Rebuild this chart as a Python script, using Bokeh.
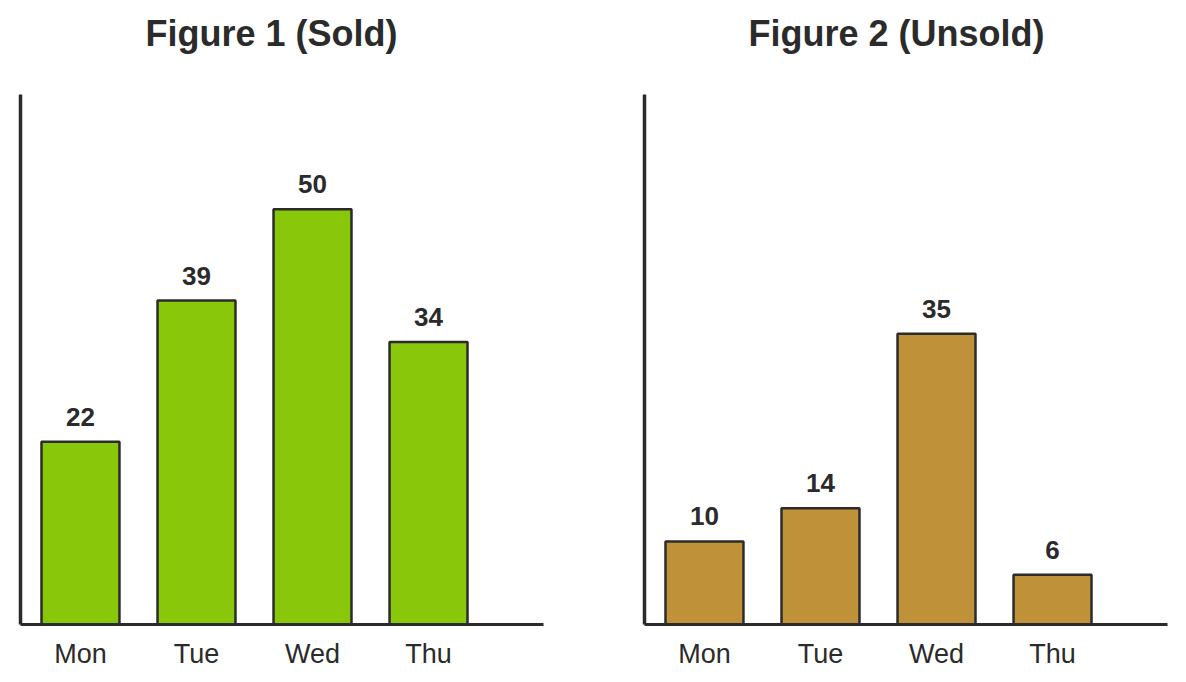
from bokeh.plotting import figure
from bokeh.layouts import row
from bokeh.models import Range1d, FixedTicker, Title, ColumnDataSource
from bokeh.core.properties import value
from bokeh.embed import file_html
from bokeh.resources import INLINE

days = ["Mon", "Tue", "Wed", "Thu"]
sold = [22, 39, 50, 34]
unsold = [10, 14, 35, 6]
titles = ["Figure 1 (Sold)", "Figure 2 (Unsold)"]
colors = ["#88c70a", "#bf9138"]

FONT = "Liberation Sans"
DARK = "#2b2b2b"


def make(vals, title, color, width, border_left, border_right, title_offset):
    idx = list(range(len(days)))
    src = ColumnDataSource(dict(x=idx, top=vals, label=[str(v) for v in vals]))
    p = figure(width=width, height=676, output_backend="svg", toolbar_location=None,
               x_range=Range1d(-0.517, 3.991), y_range=Range1d(0, 63.8),
               min_border_left=border_left, min_border_right=border_right,
               min_border_top=94, min_border_bottom=52)
    p.title = None
    # trailing newline leaves an empty line between the title and the plot area
    t = Title(text=title + "\n", align="left", offset=title_offset,
              vertical_align="bottom", standoff=0,
              text_font=FONT, text_font_size="36px", text_font_style="bold",
              text_color=DARK)
    p.add_layout(t, "above")
    p.outline_line_color = None
    p.grid.visible = False
    p.background_fill_color = "white"
    p.border_fill_color = "white"

    p.vbar(x="x", top="top", bottom=0, width=0.672, source=src,
           fill_color=color, line_color=DARK, line_width=2.5)
    p.text(x="x", y="top", text="label", source=src, text_align="center",
           text_baseline="alphabetic", y_offset=-25,
           text_font=value(FONT), text_font_size="26px", text_font_style="bold",
           text_color=DARK)

    xa = p.xaxis[0]
    xa.ticker = FixedTicker(ticks=idx)
    xa.major_label_overrides = {i: d for i, d in enumerate(days)}
    xa.major_tick_line_color = None
    xa.minor_tick_line_color = None
    xa.axis_line_width = 3
    xa.axis_line_color = DARK
    xa.major_label_text_font = FONT
    xa.major_label_text_font_size = "27px"
    xa.major_label_text_color = DARK
    xa.major_label_standoff = 8

    ya = p.yaxis[0]
    ya.ticker = FixedTicker(ticks=[])
    ya.major_tick_line_color = None
    ya.minor_tick_line_color = None
    ya.axis_line_width = 3.5
    ya.axis_line_color = DARK
    ya.major_label_text_font_size = "0px"
    return p


p1 = make(sold, titles[0], colors[0], 600, 20, 57, 125)
p2 = make(unsold, titles[1], colors[1], 580, 44, 13, 104)
layout = row(p1, p2)

open("out.html", "w").write(file_html(layout, INLINE))
